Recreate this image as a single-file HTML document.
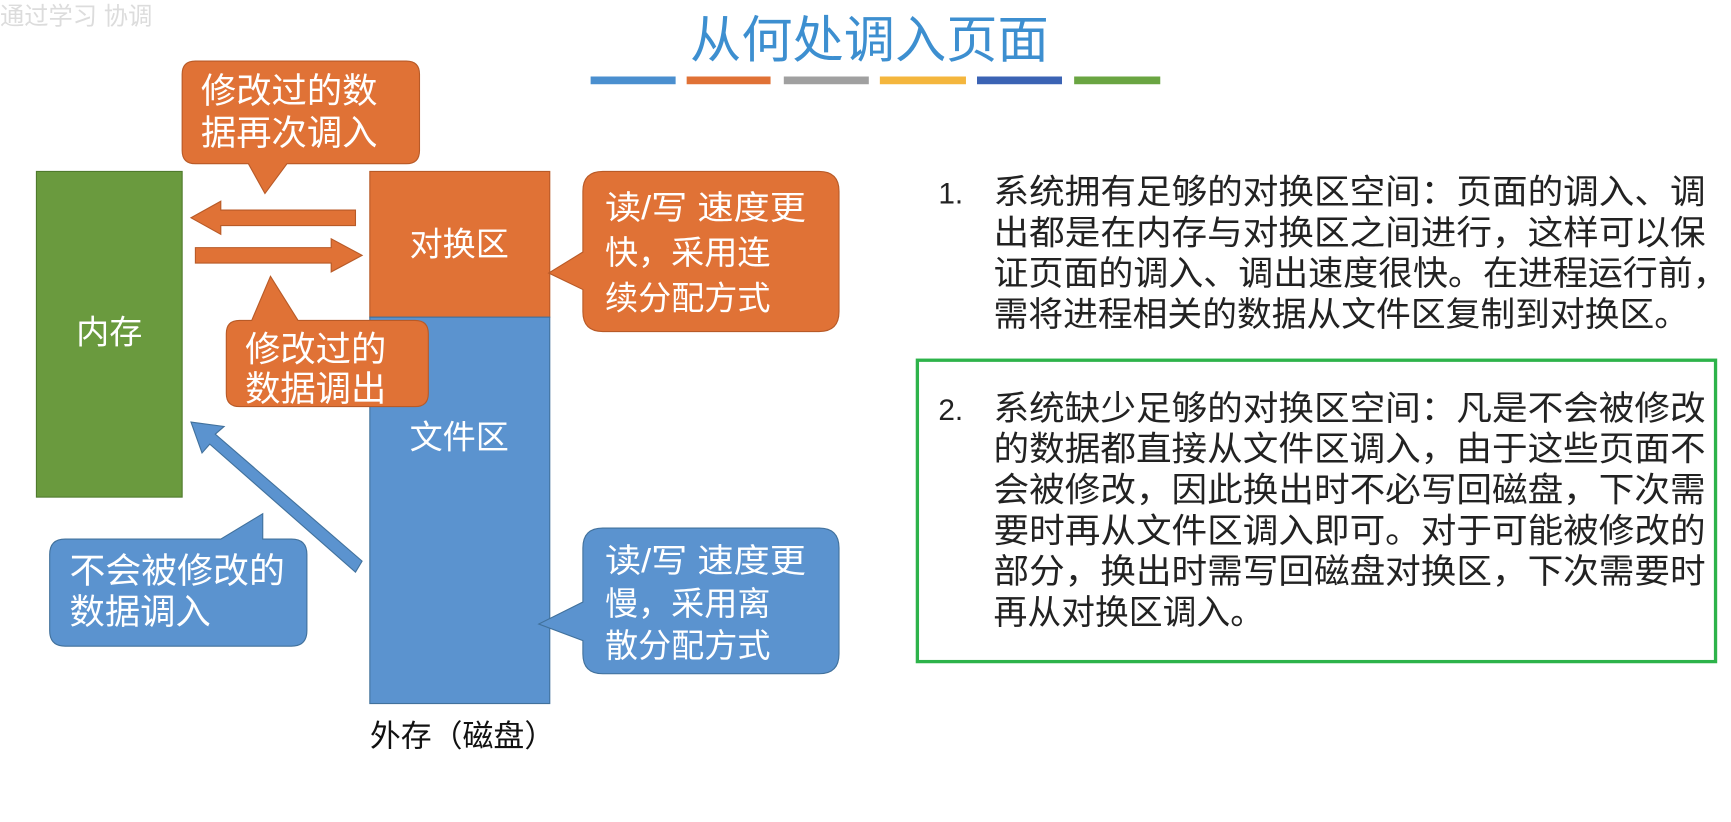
<!DOCTYPE html>
<html><head><meta charset="utf-8">
<style>
html,body{margin:0;padding:0;background:#fff;width:1731px;height:822px;overflow:hidden}
svg{display:block}
text{font-family:"Liberation Sans","Noto Sans CJK SC",sans-serif}
</style></head><body>
<svg width="1731" height="822" viewBox="0 0 1568 744" xmlns="http://www.w3.org/2000/svg">
<rect width="1568" height="744" fill="#fff"/>
<text x="0" y="22" font-size="22" fill="#dcdcdc">通过学习 协调</text>
<text x="625" y="52" font-size="46" fill="#3d8fd0" textLength="325" lengthAdjust="spacingAndGlyphs">从何处调入页面</text>
<rect x="535" y="69" width="77" height="7" fill="#4a8fcf"/>
<rect x="622" y="69" width="76" height="7" fill="#e07236"/>
<rect x="710" y="69" width="77" height="7" fill="#a0a0a0"/>
<rect x="797" y="69" width="78" height="7" fill="#f4b63d"/>
<rect x="885" y="69" width="77" height="7" fill="#3b63b4"/>
<rect x="973" y="69" width="78" height="7" fill="#6aa542"/>

<rect x="33" y="155" width="132" height="295" fill="#6a9a3e" stroke="#4f7a2c" stroke-width="1"/>
<text x="99" y="311" font-size="30" fill="#fff" text-anchor="middle">内存</text>
<rect x="335" y="155" width="163" height="132" fill="#e07236" stroke="#b85a27" stroke-width="1"/>
<text x="416" y="231" font-size="30" fill="#fff" text-anchor="middle">对换区</text>
<rect x="335" y="287" width="163" height="350" fill="#5b93cf" stroke="#41719c" stroke-width="1"/>
<text x="416" y="406" font-size="30" fill="#fff" text-anchor="middle">文件区</text>
<text x="335" y="676" font-size="28" fill="#111">外存（磁盘）</text>

<polygon points="322,190 200,190 200,182 173,197 200,212 200,204 322,204" fill="#e07236" stroke="#b85a27"/>
<polygon points="177,224 300,224 300,216 328,231 300,246 300,238 177,238" fill="#e07236" stroke="#b85a27"/>
<polygon points="328,508 195,393 203,386 173,382 183,410 190,402 322,518" fill="#5b93cf" stroke="#41719c"/>

<path d="M177,55 H368 Q380,55 380,67 V136 Q380,148 368,148 H260 L240,175 L225,148 H177 Q165,148 165,136 V67 Q165,55 177,55 Z" fill="#e07236" stroke="#b85a27"/>
<text x="182" y="93" font-size="32" fill="#fff">修改过的数</text>
<text x="182" y="131" font-size="32" fill="#fff">据再次调入</text>

<path d="M217,290 H228 L245,250 L270,290 H376 Q388,290 388,302 V356 Q388,368 376,368 H217 Q205,368 205,356 V302 Q205,290 217,290 Z" fill="#e07236" stroke="#b85a27"/>
<text x="222" y="327" font-size="32" fill="#fff">修改过的</text>
<text x="222" y="363" font-size="32" fill="#fff">数据调出</text>

<path d="M546,155 H742 Q760,155 760,173 V282 Q760,300 742,300 H546 Q528,300 528,282 V262 L497,247 L528,228 V173 Q528,155 546,155 Z" fill="#e07236" stroke="#b85a27"/>
<text x="548" y="198" font-size="30" fill="#fff" textLength="182" lengthAdjust="spacingAndGlyphs">读/写 速度更</text>
<text x="548" y="239" font-size="30" fill="#fff">快，采用连</text>
<text x="548" y="280" font-size="30" fill="#fff">续分配方式</text>

<path d="M546,478 H742 Q760,478 760,496 V592 Q760,610 742,610 H546 Q528,610 528,592 V580 L488,565 L528,545 V496 Q528,478 546,478 Z" fill="#5b93cf" stroke="#41719c"/>
<text x="548" y="518" font-size="30" fill="#fff" textLength="182" lengthAdjust="spacingAndGlyphs">读/写 速度更</text>
<text x="548" y="557" font-size="30" fill="#fff">慢，采用离</text>
<text x="548" y="595" font-size="30" fill="#fff">散分配方式</text>

<path d="M60,488 H200 L238,465 V488 H264 Q278,488 278,502 V571 Q278,585 264,585 H59 Q45,585 45,571 V502 Q45,488 59,488 Z" fill="#5b93cf" stroke="#41719c"/>
<text x="63" y="528" font-size="32" fill="#fff" textLength="195" lengthAdjust="spacingAndGlyphs">不会被修改的</text>
<text x="63" y="565" font-size="32" fill="#fff">数据调入</text>

<g font-size="31" fill="#222" lengthAdjust="spacingAndGlyphs">
<text x="850" y="184" font-size="27">1.</text>
<text x="900" y="184" textLength="645" lengthAdjust="spacingAndGlyphs">系统拥有足够的对换区空间：页面的调入、调</text>
<text x="900" y="221" textLength="645" lengthAdjust="spacingAndGlyphs">出都是在内存与对换区之间进行，这样可以保</text>
<text x="900" y="258" textLength="665" lengthAdjust="spacingAndGlyphs">证页面的调入、调出速度很快。在进程运行前，</text>
<text x="900" y="295" textLength="630" lengthAdjust="spacingAndGlyphs">需将进程相关的数据从文件区复制到对换区。</text>
</g>
<rect x="831" y="326" width="723" height="273" fill="none" stroke="#2db34a" stroke-width="3"/>
<g font-size="31" fill="#222">
<text x="850" y="380" font-size="27">2.</text>
<text x="900" y="380" textLength="645" lengthAdjust="spacingAndGlyphs">系统缺少足够的对换区空间：凡是不会被修改</text>
<text x="900" y="417" textLength="645" lengthAdjust="spacingAndGlyphs">的数据都直接从文件区调入，由于这些页面不</text>
<text x="900" y="454" textLength="645" lengthAdjust="spacingAndGlyphs">会被修改，因此换出时不必写回磁盘，下次需</text>
<text x="900" y="491" textLength="645" lengthAdjust="spacingAndGlyphs">要时再从文件区调入即可。对于可能被修改的</text>
<text x="900" y="528" textLength="645" lengthAdjust="spacingAndGlyphs">部分，换出时需写回磁盘对换区，下次需要时</text>
<text x="900" y="565" textLength="245" lengthAdjust="spacingAndGlyphs">再从对换区调入。</text>
</g>
</svg>
</body></html>
